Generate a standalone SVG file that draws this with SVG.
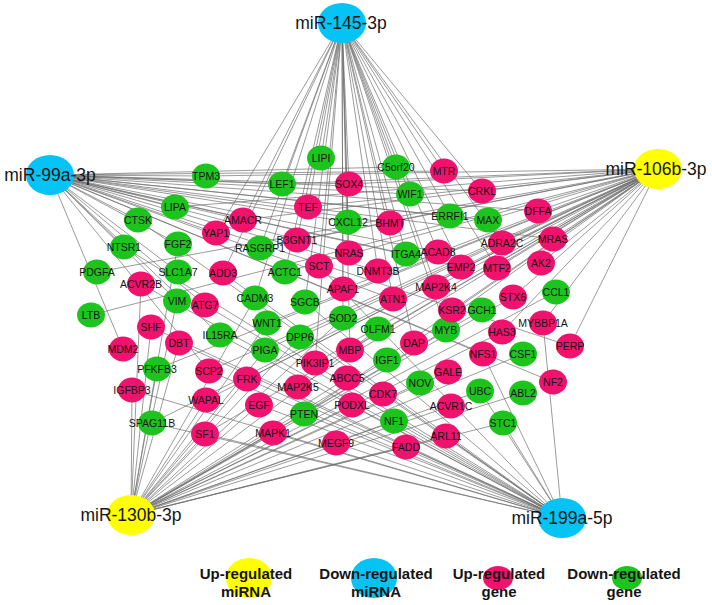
<svg xmlns="http://www.w3.org/2000/svg" width="712" height="605" viewBox="0 0 712 605">
<style>
.e line{stroke:#707070;stroke-width:0.7;fill:none}
.p{fill:#f0126c}
.g{fill:#1ec41e}
.y{fill:#ffff00}
.c{fill:#05c3f5}
text{font-family:"Liberation Sans",Arial,sans-serif;fill:#141414;text-anchor:middle}
.n text{font-size:10.5px}
.m text{font-size:17.5px}
.lg text{font-size:15px;font-weight:bold}
</style>
<rect width="712" height="605" fill="#fff"/>
<g class="e" id="edges">
<!-- miR-145-3p -->
<line x1="342" y1="23" x2="321" y2="158"/><line x1="342" y1="23" x2="282" y2="184"/><line x1="342" y1="23" x2="396" y2="167"/><line x1="342" y1="23" x2="410" y2="194"/><line x1="342" y1="23" x2="348" y2="222"/><line x1="342" y1="23" x2="450" y2="216"/><line x1="342" y1="23" x2="260" y2="248"/><line x1="342" y1="23" x2="406" y2="254"/><line x1="342" y1="23" x2="285" y2="272"/><line x1="342" y1="23" x2="255" y2="298"/><line x1="342" y1="23" x2="305" y2="302"/><line x1="342" y1="23" x2="343" y2="318"/><line x1="342" y1="23" x2="446" y2="330"/><line x1="342" y1="23" x2="216" y2="233"/><line x1="342" y1="23" x2="223" y2="273"/><line x1="342" y1="23" x2="444" y2="171"/><line x1="342" y1="23" x2="349" y2="184"/><line x1="342" y1="23" x2="308" y2="207"/><line x1="342" y1="23" x2="390" y2="223"/><line x1="342" y1="23" x2="297" y2="240"/><line x1="342" y1="23" x2="349" y2="253"/><line x1="342" y1="23" x2="438" y2="252"/><line x1="342" y1="23" x2="319" y2="266"/><line x1="342" y1="23" x2="378" y2="271"/><line x1="342" y1="23" x2="461" y2="267"/><line x1="342" y1="23" x2="482" y2="191"/><line x1="342" y1="23" x2="502" y2="243"/><line x1="342" y1="23" x2="497" y2="268"/><line x1="342" y1="23" x2="343" y2="289"/><line x1="342" y1="23" x2="436" y2="287"/><line x1="342" y1="23" x2="393" y2="299"/><line x1="342" y1="23" x2="414" y2="343"/><line x1="342" y1="23" x2="350" y2="350"/><line x1="342" y1="23" x2="315" y2="363"/><line x1="342" y1="23" x2="243" y2="220"/>
<!-- miR-99a-3p -->
<line x1="50" y1="175" x2="206" y2="176"/><line x1="50" y1="175" x2="175" y2="207"/><line x1="50" y1="175" x2="138" y2="220"/><line x1="50" y1="175" x2="124" y2="247"/><line x1="50" y1="175" x2="178" y2="244"/><line x1="50" y1="175" x2="178" y2="272"/><line x1="50" y1="175" x2="177" y2="301"/><line x1="50" y1="175" x2="220" y2="335"/><line x1="50" y1="175" x2="396" y2="167"/><line x1="50" y1="175" x2="410" y2="194"/><line x1="50" y1="175" x2="348" y2="222"/><line x1="50" y1="175" x2="450" y2="216"/><line x1="50" y1="175" x2="406" y2="254"/><line x1="50" y1="175" x2="488" y2="220"/><line x1="50" y1="175" x2="216" y2="233"/><line x1="50" y1="175" x2="243" y2="220"/><line x1="50" y1="175" x2="205" y2="305"/><line x1="50" y1="175" x2="123" y2="349"/><line x1="50" y1="175" x2="209" y2="371"/><line x1="50" y1="175" x2="444" y2="171"/><line x1="50" y1="175" x2="349" y2="184"/><line x1="50" y1="175" x2="390" y2="223"/><line x1="50" y1="175" x2="349" y2="253"/><line x1="50" y1="175" x2="438" y2="252"/><line x1="50" y1="175" x2="378" y2="271"/><line x1="50" y1="175" x2="461" y2="267"/><line x1="50" y1="175" x2="482" y2="191"/><line x1="50" y1="175" x2="538" y2="211"/><line x1="50" y1="175" x2="553" y2="239"/><line x1="50" y1="175" x2="393" y2="299"/><line x1="50" y1="175" x2="570" y2="346"/><line x1="50" y1="175" x2="483" y2="354"/><line x1="50" y1="175" x2="553" y2="382"/><line x1="50" y1="175" x2="282" y2="184"/>
<!-- miR-106b-3p -->
<line x1="658" y1="169" x2="206" y2="176"/><line x1="658" y1="169" x2="175" y2="207"/><line x1="658" y1="169" x2="97" y2="272"/><line x1="658" y1="169" x2="91" y2="315"/><line x1="658" y1="169" x2="157" y2="369"/><line x1="658" y1="169" x2="152" y2="423"/><line x1="658" y1="169" x2="282" y2="184"/><line x1="658" y1="169" x2="260" y2="248"/><line x1="658" y1="169" x2="285" y2="272"/><line x1="658" y1="169" x2="267" y2="323"/><line x1="658" y1="169" x2="300" y2="337"/><line x1="658" y1="169" x2="265" y2="350"/><line x1="658" y1="169" x2="243" y2="220"/><line x1="658" y1="169" x2="206" y2="400"/><line x1="658" y1="169" x2="205" y2="434"/><line x1="658" y1="169" x2="308" y2="207"/><line x1="658" y1="169" x2="297" y2="240"/><line x1="658" y1="169" x2="538" y2="211"/><line x1="658" y1="169" x2="502" y2="243"/><line x1="658" y1="169" x2="553" y2="239"/><line x1="658" y1="169" x2="541" y2="263"/><line x1="658" y1="169" x2="497" y2="268"/><line x1="658" y1="169" x2="343" y2="289"/><line x1="658" y1="169" x2="436" y2="287"/><line x1="658" y1="169" x2="452" y2="310"/><line x1="658" y1="169" x2="513" y2="297"/><line x1="658" y1="169" x2="543" y2="323"/><line x1="658" y1="169" x2="502" y2="332"/><line x1="658" y1="169" x2="570" y2="346"/><line x1="658" y1="169" x2="414" y2="343"/><line x1="658" y1="169" x2="350" y2="350"/><line x1="658" y1="169" x2="315" y2="363"/><line x1="658" y1="169" x2="298" y2="387"/><line x1="658" y1="169" x2="488" y2="220"/><line x1="658" y1="169" x2="349" y2="184"/><line x1="658" y1="169" x2="482" y2="191"/><line x1="658" y1="169" x2="209" y2="371"/><line x1="658" y1="169" x2="247" y2="379"/><line x1="658" y1="169" x2="304" y2="414"/>
<!-- miR-130b-3p -->
<line x1="131" y1="515" x2="141" y2="284"/><line x1="131" y1="515" x2="151" y2="327"/><line x1="131" y1="515" x2="132" y2="390"/><line x1="131" y1="515" x2="157" y2="369"/><line x1="131" y1="515" x2="177" y2="301"/><line x1="131" y1="515" x2="178" y2="244"/><line x1="131" y1="515" x2="205" y2="434"/><line x1="131" y1="515" x2="206" y2="400"/><line x1="131" y1="515" x2="247" y2="379"/><line x1="131" y1="515" x2="259" y2="405"/><line x1="131" y1="515" x2="273" y2="433"/><line x1="131" y1="515" x2="267" y2="323"/><line x1="131" y1="515" x2="300" y2="337"/><line x1="131" y1="515" x2="265" y2="350"/><line x1="131" y1="515" x2="255" y2="298"/><line x1="131" y1="515" x2="446" y2="330"/><line x1="131" y1="515" x2="387" y2="360"/><line x1="131" y1="515" x2="420" y2="383"/><line x1="131" y1="515" x2="347" y2="378"/><line x1="131" y1="515" x2="352" y2="405"/><line x1="131" y1="515" x2="448" y2="372"/><line x1="131" y1="515" x2="394" y2="421"/><line x1="131" y1="515" x2="480" y2="391"/><line x1="131" y1="515" x2="523" y2="393"/><line x1="131" y1="515" x2="503" y2="423"/><line x1="131" y1="515" x2="523" y2="354"/><line x1="131" y1="515" x2="556" y2="292"/><line x1="131" y1="515" x2="482" y2="310"/><line x1="131" y1="515" x2="513" y2="297"/><line x1="131" y1="515" x2="502" y2="332"/><line x1="131" y1="515" x2="451" y2="406"/><line x1="131" y1="515" x2="446" y2="436"/><line x1="131" y1="515" x2="406" y2="447"/><line x1="131" y1="515" x2="179" y2="343"/><line x1="131" y1="515" x2="343" y2="318"/><line x1="131" y1="515" x2="378" y2="329"/>
<!-- miR-199a-5p -->
<line x1="562" y1="518" x2="483" y2="354"/><line x1="562" y1="518" x2="480" y2="391"/><line x1="562" y1="518" x2="543" y2="323"/><line x1="562" y1="518" x2="383" y2="394"/><line x1="562" y1="518" x2="336" y2="443"/><line x1="562" y1="518" x2="273" y2="433"/><line x1="562" y1="518" x2="259" y2="405"/><line x1="562" y1="518" x2="304" y2="414"/><line x1="562" y1="518" x2="394" y2="421"/><line x1="562" y1="518" x2="446" y2="436"/><line x1="562" y1="518" x2="205" y2="434"/><line x1="562" y1="518" x2="132" y2="390"/><line x1="562" y1="518" x2="209" y2="371"/><line x1="562" y1="518" x2="305" y2="302"/><line x1="562" y1="518" x2="223" y2="273"/><line x1="562" y1="518" x2="141" y2="284"/><line x1="562" y1="518" x2="319" y2="266"/><line x1="562" y1="518" x2="138" y2="220"/><line x1="562" y1="518" x2="124" y2="247"/><line x1="562" y1="518" x2="220" y2="335"/><line x1="562" y1="518" x2="151" y2="327"/><line x1="562" y1="518" x2="152" y2="423"/><line x1="562" y1="518" x2="205" y2="305"/><line x1="562" y1="518" x2="406" y2="447"/><line x1="562" y1="518" x2="352" y2="405"/><line x1="562" y1="518" x2="179" y2="343"/><line x1="562" y1="518" x2="247" y2="379"/><line x1="562" y1="518" x2="503" y2="423"/>
</g>
<g class="n" id="genes">
<g id="TPM3"><ellipse class="g" cx="206" cy="176" rx="14" ry="12.5"/><text x="206" y="180">TPM3</text></g>
<g id="LIPA"><ellipse class="g" cx="175" cy="207" rx="14" ry="12.5"/><text x="175" y="211">LIPA</text></g>
<g id="CTSK"><ellipse class="g" cx="138" cy="220" rx="14" ry="12.5"/><text x="138" y="224">CTSK</text></g>
<g id="NTSR1"><ellipse class="g" cx="124" cy="247" rx="14" ry="12.5"/><text x="124" y="251">NTSR1</text></g>
<g id="FGF2"><ellipse class="g" cx="178" cy="244" rx="14" ry="12.5"/><text x="178" y="248">FGF2</text></g>
<g id="PDGFA"><ellipse class="g" cx="97" cy="272" rx="14" ry="12.5"/><text x="97" y="276">PDGFA</text></g>
<g id="SLC1A7"><ellipse class="g" cx="178" cy="272" rx="14" ry="12.5"/><text x="178" y="276">SLC1A7</text></g>
<g id="LTB"><ellipse class="g" cx="91" cy="315" rx="14" ry="12.5"/><text x="91" y="319">LTB</text></g>
<g id="VIM"><ellipse class="g" cx="177" cy="301" rx="14" ry="12.5"/><text x="177" y="305">VIM</text></g>
<g id="IL15RA"><ellipse class="g" cx="220" cy="335" rx="14" ry="12.5"/><text x="220" y="339">IL15RA</text></g>
<g id="PFKFB3"><ellipse class="g" cx="157" cy="369" rx="14" ry="12.5"/><text x="157" y="373">PFKFB3</text></g>
<g id="SPAG11B"><ellipse class="g" cx="152" cy="423" rx="14" ry="12.5"/><text x="152" y="427">SPAG11B</text></g>
<g id="LIPI"><ellipse class="g" cx="321" cy="158" rx="14" ry="12.5"/><text x="321" y="162">LIPI</text></g>
<g id="LEF1"><ellipse class="g" cx="282" cy="184" rx="14" ry="12.5"/><text x="282" y="188">LEF1</text></g>
<g id="C5orf20"><ellipse class="g" cx="396" cy="167" rx="14" ry="12.5"/><text x="396" y="171">C5orf20</text></g>
<g id="WIF1"><ellipse class="g" cx="410" cy="194" rx="14" ry="12.5"/><text x="410" y="198">WIF1</text></g>
<g id="CXCL12"><ellipse class="g" cx="348" cy="222" rx="14" ry="12.5"/><text x="348" y="226">CXCL12</text></g>
<g id="ERRFI1"><ellipse class="g" cx="450" cy="216" rx="14" ry="12.5"/><text x="450" y="220">ERRFI1</text></g>
<g id="RASGRP1"><ellipse class="g" cx="260" cy="248" rx="14" ry="12.5"/><text x="260" y="252">RASGRP1</text></g>
<g id="ITGA4"><ellipse class="g" cx="406" cy="254" rx="14" ry="12.5"/><text x="406" y="258">ITGA4</text></g>
<g id="ACTC1"><ellipse class="g" cx="285" cy="272" rx="14" ry="12.5"/><text x="285" y="276">ACTC1</text></g>
<g id="MAX"><ellipse class="g" cx="488" cy="220" rx="14" ry="12.5"/><text x="488" y="224">MAX</text></g>
<g id="CADM3"><ellipse class="g" cx="255" cy="298" rx="14" ry="12.5"/><text x="255" y="302">CADM3</text></g>
<g id="SGCB"><ellipse class="g" cx="305" cy="302" rx="14" ry="12.5"/><text x="305" y="306">SGCB</text></g>
<g id="SOD2"><ellipse class="g" cx="343" cy="318" rx="14" ry="12.5"/><text x="343" y="322">SOD2</text></g>
<g id="WNT1"><ellipse class="g" cx="267" cy="323" rx="14" ry="12.5"/><text x="267" y="327">WNT1</text></g>
<g id="OLFM1"><ellipse class="g" cx="378" cy="329" rx="14" ry="12.5"/><text x="378" y="333">OLFM1</text></g>
<g id="MYB"><ellipse class="g" cx="446" cy="330" rx="14" ry="12.5"/><text x="446" y="334">MYB</text></g>
<g id="DPP6"><ellipse class="g" cx="300" cy="337" rx="14" ry="12.5"/><text x="300" y="341">DPP6</text></g>
<g id="PIGA"><ellipse class="g" cx="265" cy="350" rx="14" ry="12.5"/><text x="265" y="354">PIGA</text></g>
<g id="IGF1"><ellipse class="g" cx="387" cy="360" rx="14" ry="12.5"/><text x="387" y="364">IGF1</text></g>
<g id="NOV"><ellipse class="g" cx="420" cy="383" rx="14" ry="12.5"/><text x="420" y="387">NOV</text></g>
<g id="PTEN"><ellipse class="g" cx="304" cy="414" rx="14" ry="12.5"/><text x="304" y="418">PTEN</text></g>
<g id="NF1"><ellipse class="g" cx="394" cy="421" rx="14" ry="12.5"/><text x="394" y="425">NF1</text></g>
<g id="UBC"><ellipse class="g" cx="480" cy="391" rx="14" ry="12.5"/><text x="480" y="395">UBC</text></g>
<g id="ABL2"><ellipse class="g" cx="523" cy="393" rx="14" ry="12.5"/><text x="523" y="397">ABL2</text></g>
<g id="STC1"><ellipse class="g" cx="503" cy="423" rx="14" ry="12.5"/><text x="503" y="427">STC1</text></g>
<g id="CSF1"><ellipse class="g" cx="523" cy="354" rx="14" ry="12.5"/><text x="523" y="358">CSF1</text></g>
<g id="CCL1"><ellipse class="g" cx="556" cy="292" rx="14" ry="12.5"/><text x="556" y="296">CCL1</text></g>
<g id="GCH1"><ellipse class="g" cx="482" cy="310" rx="14" ry="12.5"/><text x="482" y="314">GCH1</text></g>
<g id="YAP1"><ellipse class="p" cx="216" cy="233" rx="14" ry="12.5"/><text x="216" y="237">YAP1</text></g>
<g id="AMACR"><ellipse class="p" cx="243" cy="220" rx="14" ry="12.5"/><text x="243" y="224">AMACR</text></g>
<g id="ADD3"><ellipse class="p" cx="223" cy="273" rx="14" ry="12.5"/><text x="223" y="277">ADD3</text></g>
<g id="ACVR2B"><ellipse class="p" cx="141" cy="284" rx="14" ry="12.5"/><text x="141" y="288">ACVR2B</text></g>
<g id="ATG7"><ellipse class="p" cx="205" cy="305" rx="14" ry="12.5"/><text x="205" y="309">ATG7</text></g>
<g id="SHF"><ellipse class="p" cx="151" cy="327" rx="14" ry="12.5"/><text x="151" y="331">SHF</text></g>
<g id="DBT"><ellipse class="p" cx="179" cy="343" rx="14" ry="12.5"/><text x="179" y="347">DBT</text></g>
<g id="MDM2"><ellipse class="p" cx="123" cy="349" rx="14" ry="12.5"/><text x="123" y="353">MDM2</text></g>
<g id="SCP2"><ellipse class="p" cx="209" cy="371" rx="14" ry="12.5"/><text x="209" y="375">SCP2</text></g>
<g id="IGFBP3"><ellipse class="p" cx="132" cy="390" rx="14" ry="12.5"/><text x="132" y="394">IGFBP3</text></g>
<g id="WAPAL"><ellipse class="p" cx="206" cy="400" rx="14" ry="12.5"/><text x="206" y="404">WAPAL</text></g>
<g id="SF1"><ellipse class="p" cx="205" cy="434" rx="14" ry="12.5"/><text x="205" y="438">SF1</text></g>
<g id="MTR"><ellipse class="p" cx="444" cy="171" rx="14" ry="12.5"/><text x="444" y="175">MTR</text></g>
<g id="SOX4"><ellipse class="p" cx="349" cy="184" rx="14" ry="12.5"/><text x="349" y="188">SOX4</text></g>
<g id="TEF"><ellipse class="p" cx="308" cy="207" rx="14" ry="12.5"/><text x="308" y="211">TEF</text></g>
<g id="BHMT"><ellipse class="p" cx="390" cy="223" rx="14" ry="12.5"/><text x="390" y="227">BHMT</text></g>
<g id="B3GNT1"><ellipse class="p" cx="297" cy="240" rx="14" ry="12.5"/><text x="297" y="244">B3GNT1</text></g>
<g id="NRAS"><ellipse class="p" cx="349" cy="253" rx="14" ry="12.5"/><text x="349" y="257">NRAS</text></g>
<g id="ACAD8"><ellipse class="p" cx="438" cy="252" rx="14" ry="12.5"/><text x="438" y="256">ACAD8</text></g>
<g id="SCT"><ellipse class="p" cx="319" cy="266" rx="14" ry="12.5"/><text x="319" y="270">SCT</text></g>
<g id="DNMT3B"><ellipse class="p" cx="378" cy="271" rx="14" ry="12.5"/><text x="378" y="275">DNMT3B</text></g>
<g id="EMP2"><ellipse class="p" cx="461" cy="267" rx="14" ry="12.5"/><text x="461" y="271">EMP2</text></g>
<g id="CRKL"><ellipse class="p" cx="482" cy="191" rx="14" ry="12.5"/><text x="482" y="195">CRKL</text></g>
<g id="DFFA"><ellipse class="p" cx="538" cy="211" rx="14" ry="12.5"/><text x="538" y="215">DFFA</text></g>
<g id="ADRA2C"><ellipse class="p" cx="502" cy="243" rx="14" ry="12.5"/><text x="502" y="247">ADRA2C</text></g>
<g id="MRAS"><ellipse class="p" cx="553" cy="239" rx="14" ry="12.5"/><text x="553" y="243">MRAS</text></g>
<g id="AK2"><ellipse class="p" cx="541" cy="263" rx="14" ry="12.5"/><text x="541" y="267">AK2</text></g>
<g id="MTF2"><ellipse class="p" cx="497" cy="268" rx="14" ry="12.5"/><text x="497" y="272">MTF2</text></g>
<g id="APAF1"><ellipse class="p" cx="343" cy="289" rx="14" ry="12.5"/><text x="343" y="293">APAF1</text></g>
<g id="MAP2K4"><ellipse class="p" cx="436" cy="287" rx="14" ry="12.5"/><text x="436" y="291">MAP2K4</text></g>
<g id="ATN1"><ellipse class="p" cx="393" cy="299" rx="14" ry="12.5"/><text x="393" y="303">ATN1</text></g>
<g id="KSR2"><ellipse class="p" cx="452" cy="310" rx="14" ry="12.5"/><text x="452" y="314">KSR2</text></g>
<g id="STX6"><ellipse class="p" cx="513" cy="297" rx="14" ry="12.5"/><text x="513" y="301">STX6</text></g>
<g id="MYBBP1A"><ellipse class="p" cx="543" cy="323" rx="14" ry="12.5"/><text x="543" y="327">MYBBP1A</text></g>
<g id="HAS3"><ellipse class="p" cx="502" cy="332" rx="14" ry="12.5"/><text x="502" y="336">HAS3</text></g>
<g id="PERP"><ellipse class="p" cx="570" cy="346" rx="14" ry="12.5"/><text x="570" y="350">PERP</text></g>
<g id="DAP"><ellipse class="p" cx="414" cy="343" rx="14" ry="12.5"/><text x="414" y="347">DAP</text></g>
<g id="MBP"><ellipse class="p" cx="350" cy="350" rx="14" ry="12.5"/><text x="350" y="354">MBP</text></g>
<g id="PIK3IP1"><ellipse class="p" cx="315" cy="363" rx="14" ry="12.5"/><text x="315" y="367">PIK3IP1</text></g>
<g id="FRK"><ellipse class="p" cx="247" cy="379" rx="14" ry="12.5"/><text x="247" y="383">FRK</text></g>
<g id="ABCC5"><ellipse class="p" cx="347" cy="378" rx="14" ry="12.5"/><text x="347" y="382">ABCC5</text></g>
<g id="GALE"><ellipse class="p" cx="448" cy="372" rx="14" ry="12.5"/><text x="448" y="376">GALE</text></g>
<g id="MAP2K5"><ellipse class="p" cx="298" cy="387" rx="14" ry="12.5"/><text x="298" y="391">MAP2K5</text></g>
<g id="CDK7"><ellipse class="p" cx="383" cy="394" rx="14" ry="12.5"/><text x="383" y="398">CDK7</text></g>
<g id="PODXL"><ellipse class="p" cx="352" cy="405" rx="14" ry="12.5"/><text x="352" y="409">PODXL</text></g>
<g id="EGF"><ellipse class="p" cx="259" cy="405" rx="14" ry="12.5"/><text x="259" y="409">EGF</text></g>
<g id="ACVR1C"><ellipse class="p" cx="451" cy="406" rx="14" ry="12.5"/><text x="451" y="410">ACVR1C</text></g>
<g id="MAPK1"><ellipse class="p" cx="273" cy="433" rx="14" ry="12.5"/><text x="273" y="437">MAPK1</text></g>
<g id="ARL11"><ellipse class="p" cx="446" cy="436" rx="14" ry="12.5"/><text x="446" y="440">ARL11</text></g>
<g id="MEGF9"><ellipse class="p" cx="336" cy="443" rx="14" ry="12.5"/><text x="336" y="447">MEGF9</text></g>
<g id="FADD"><ellipse class="p" cx="406" cy="447" rx="14" ry="12.5"/><text x="406" y="451">FADD</text></g>
<g id="NFS1"><ellipse class="p" cx="483" cy="354" rx="14" ry="12.5"/><text x="483" y="358">NFS1</text></g>
<g id="NF2"><ellipse class="p" cx="553" cy="382" rx="14" ry="12.5"/><text x="553" y="386">NF2</text></g>
</g>
<g class="m" id="mirnas">
<g id="miR-145-3p"><ellipse class="c" cx="342" cy="23" rx="24" ry="20"/><text x="341" y="29">miR-145-3p</text></g>
<g id="miR-99a-3p"><ellipse class="c" cx="50" cy="175" rx="24" ry="20"/><text x="50" y="181">miR-99a-3p</text></g>
<g id="miR-106b-3p"><ellipse class="y" cx="658" cy="169" rx="24" ry="20"/><text x="656" y="175">miR-106b-3p</text></g>
<g id="miR-130b-3p"><ellipse class="y" cx="131" cy="515" rx="24" ry="20"/><text x="131" y="521">miR-130b-3p</text></g>
<g id="miR-199a-5p"><ellipse class="c" cx="562" cy="518" rx="24" ry="20"/><text x="562" y="524">miR-199a-5p</text></g>
</g>
<g class="lg" id="legend">
<g id="leg-up-mirna"><ellipse class="y" cx="249" cy="578" rx="23" ry="20"/><text x="246" y="579">Up-regulated</text><text x="246" y="597">miRNA</text></g>
<g id="leg-down-mirna"><ellipse class="c" cx="374" cy="578" rx="23" ry="20"/><text x="376" y="579">Down-regulated</text><text x="376" y="597">miRNA</text></g>
<g id="leg-up-gene"><ellipse class="p" cx="498" cy="578" rx="15" ry="12"/><text x="499" y="579">Up-regulated</text><text x="499" y="597">gene</text></g>
<g id="leg-down-gene"><ellipse class="g" cx="627" cy="578" rx="15" ry="12"/><text x="624" y="579">Down-regulated</text><text x="624" y="597">gene</text></g>
</g>
</svg>
